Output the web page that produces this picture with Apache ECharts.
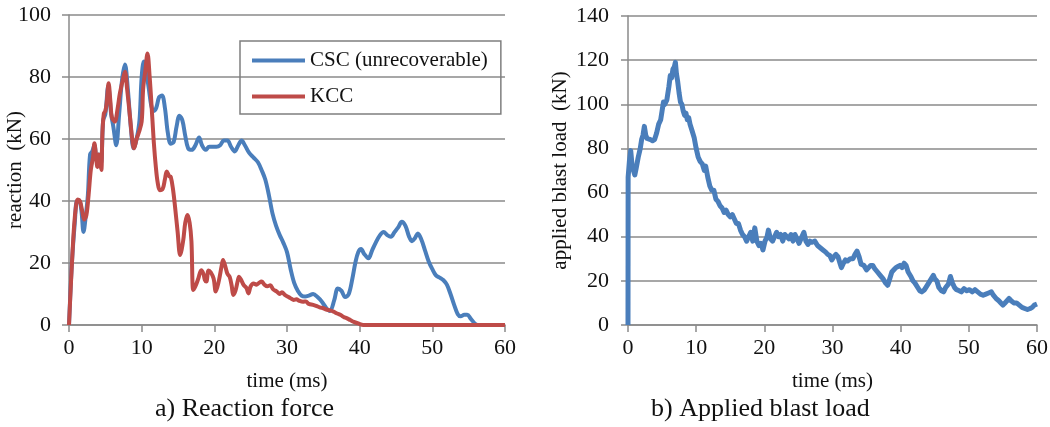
<!DOCTYPE html>
<html>
<head>
<meta charset="utf-8">
<script src="https://cdn.jsdelivr.net/npm/echarts@6/dist/echarts.min.js"></script>
<style>
  html, body { margin: 0; padding: 0; background: #fff; }
  #chart { width: 1050px; height: 427px; }
</style>
</head>
<body>
<div id="chart"></div>
<script>
// a) Reaction force — CSC (unrecoverable)
const cscTime = [0,0.4,0.8,1.1,1.4,1.7,2.0,2.3,2.6,2.9,3.2,3.5,3.8,4.1,4.4,4.7,5.0,5.4,5.8,6.1,6.5,6.9,7.3,7.7,8.1,8.5,8.9,9.3,9.7,10.0,10.3,10.6,11.0,11.3,11.6,12.0,12.4,12.8,13.2,13.6,14.0,14.4,14.8,15.2,15.6,16.0,16.4,16.9,17.4,17.9,18.3,18.8,19.3,19.8,20.3,20.8,21.3,21.8,22.3,22.8,23.3,23.75,24.2,24.8,25.4,26.0,26.5,27.0,27.5,28.0,28.5,29.0,29.5,30.0,30.5,31.0,31.5,32.0,32.5,33.0,33.6,34.2,34.8,35.4,35.9,36.5,37.0,37.5,38.0,38.5,39.0,39.4,39.8,40.2,40.6,41.2,41.7,42.2,42.8,43.3,43.8,44.3,44.8,45.3,45.8,46.3,46.8,47.2,47.6,48.0,48.5,49.0,49.5,50.0,50.5,51.0,51.5,52.0,52.5,53.0,53.5,53.9,54.4,54.8,55.3,56.0,56.5,60];
const cscForce = [0,20,33,40,40,37,30,35,42,55,56,58,54,55,52,66,68,77,68,64,58,68,79,84,76,64,57,60,66,80,85,82,76,71,69,70,73.5,74,70,62,58.5,59,64,67.5,66,61,57,56.5,58,60.5,58,56.5,57.5,57.5,57.5,58,59.5,59.5,57.5,56,58,59.5,58,55.5,54,52.5,50,47,42,36,32,29,26.5,23.5,18,13.5,11,9.5,9.2,9.5,10,9,7.5,5.5,4.5,8,11.8,11,9,10,15,20,23.5,24.5,23,21.5,24,26.5,29,30,29,28.5,30,31.5,33.3,32,28.5,27,28,29.5,27.5,24,20.5,18,16,15.3,14.5,13,10,6.5,3.5,2.8,3.3,3.3,2,0.2,0,0];

// a) Reaction force — KCC
const kccTime = [0,0.3,0.7,1.0,1.2,1.5,1.8,2.1,2.4,2.7,3.0,3.3,3.5,3.7,3.9,4.1,4.3,4.45,4.6,4.8,5.0,5.2,5.45,5.7,5.9,6.3,6.7,7.0,7.4,7.7,8.0,8.4,8.7,8.95,9.3,9.6,10.0,10.2,10.5,10.8,11.1,11.46,11.7,11.95,12.2,12.5,12.9,13.2,13.45,13.8,14.0,14.3,14.6,14.95,15.3,15.7,16.0,16.3,16.6,16.85,17.1,17.4,17.8,18.2,18.5,18.7,18.9,19.2,19.5,19.9,20.2,20.6,21.0,21.2,21.5,21.8,22.1,22.4,22.6,22.9,23.2,23.4,23.7,24.0,24.4,24.7,25.0,25.4,25.8,26.1,26.5,26.9,27.3,27.7,28.1,28.6,29.0,29.3,29.7,30.2,30.6,30.9,31.3,31.7,32.2,32.6,33.0,33.6,34.0,34.5,35.0,35.4,35.9,36.4,36.9,37.4,37.8,38.2,38.7,39.2,39.8,40.5,60];
const kccForce = [0,15,32,39,40.5,40,37,34,35.5,42,50,54,58.6,55,51,55,52,50,62,68.3,69,72,78,72,67,65.6,70,74.7,79,81.7,76,67,60,57,60,62,65.6,76,82,87.6,80,67,58,51,46,43.5,44,47,49.5,48,47.8,44,38,30,22.6,27,33,35.5,33,27,11.3,12.5,15,17.7,16.5,14.5,14,17.6,17,15,10.8,14,19,21,19,16.5,15.6,12.5,9.7,11,14,15.6,14.5,13,12,10.2,12.5,13.4,13,13.5,14,13,12.5,12.8,11.5,10.8,10,10.6,9.7,9,8.5,8.1,8.3,7.8,7.5,7.6,6.8,6.5,6.2,5.7,5.4,5,4.7,4.3,3.7,3.2,2.6,2.2,1.6,1.0,0.5,0,0];

// b) Applied blast load
const blastTime = [0,0.02,0.2,0.4,0.6,0.8,1.0,1.2,1.5,1.8,2.0,2.2,2.4,2.6,2.8,3.0,3.3,3.6,3.9,4.2,4.5,4.8,5.0,5.2,5.4,5.7,6.0,6.2,6.4,6.6,6.8,6.95,7.1,7.3,7.5,7.7,7.9,8.1,8.3,8.5,8.7,8.9,9.1,9.4,9.7,10.0,10.3,10.6,10.9,11.2,11.4,11.7,12.0,12.3,12.6,12.9,13.2,13.5,13.8,14.1,14.4,14.7,15.0,15.3,15.6,15.9,16.2,16.5,16.8,17.1,17.4,17.7,18.0,18.3,18.6,18.9,19.2,19.5,19.8,20.1,20.4,20.6,20.9,21.2,21.5,21.8,22.1,22.4,22.7,23.0,23.3,23.6,23.9,24.2,24.5,24.8,25.1,25.5,25.8,26.1,26.4,26.7,27.0,27.4,27.8,28.2,28.6,29.0,29.3,29.6,29.9,30.2,30.5,30.8,31.1,31.3,31.6,31.9,32.2,32.6,33.0,33.3,33.6,33.9,34.2,34.6,35.0,35.3,35.6,35.9,36.2,36.6,37.0,37.4,37.8,38.1,38.4,38.7,39.0,39.3,39.6,39.9,40.2,40.5,40.8,41.1,41.5,41.8,42.1,42.5,42.8,43.1,43.5,43.8,44.1,44.5,44.8,45.0,45.3,45.6,46.0,46.3,46.6,47.0,47.3,47.6,47.9,48.2,48.6,48.9,49.3,49.7,50.1,50.5,50.9,51.3,51.7,52.1,52.5,52.9,53.3,53.6,54.0,54.4,54.7,55.0,55.3,55.6,55.9,56.2,56.6,57.0,57.4,57.8,58.2,58.6,59.0,59.3,59.6,60.0];
const blastLoad = [0,67,74,79,72,70,68,71,76,80,84,86,90,86,84.5,85,84,83.5,84,87,91,93,97,101,100,102,108,113,112,116,117,119,114,110,105,101,100,97,95,96,93,94,91,88,85,80,76,74,73,70,72,67,63,61,61,57,56,54,53,51,52,50,49,50,48,46,46,43,41,40,38,40,42,38,44,38,36,37,34,38,40,43,39,38,40,42,40,41,38,41,40,39,41,38,41,39,37,40,42,38,36.5,38,37.5,38,36,35,34,33,32,31.5,29.5,31,32,31,28,26,28,29.5,29,30,30,32,33.5,31,27.5,27,25,26,27,27,25.5,24,22.5,21,19,18,21,24,25,26,26.5,27,26,28,27,24,22,20,19,17,15.5,15,16,17.5,19,21,22.5,21,20,17,15.5,15,17,18.5,22,19,17,16,15.5,15,16.5,15.5,16,15,16,15,14,13.5,14,14.5,15,13.5,12,11,10,9,10,11,12,11,10,10,9,8,7.5,7,7.5,8,9,9.5];

const timeTicks = [0, 10, 20, 30, 40, 50, 60];

const pairs = (xs, ys) => xs.map((x, i) => [x, ys[i]]);

const BLUE = '#4a7ebb';
const RED = '#be4b48';
const GRID = '#8a8a8a';
const FONT = '"Liberation Serif", "Times New Roman", serif';

const chart = echarts.init(document.getElementById('chart'), null, { renderer: 'canvas' });

function xAxisFor(gridIndex) {
  return {
    type: 'value', gridIndex, min: timeTicks[0], max: timeTicks[timeTicks.length - 1], interval: 10,
    name: 'time (ms)', nameLocation: 'middle', nameGap: 46,
    nameTextStyle: { fontFamily: FONT, fontSize: 21, color: '#111' },
    axisLine: { show: true, lineStyle: { color: GRID, width: 1.5 } },
    axisTick: { show: true, inside: false, length: 7, lineStyle: { color: GRID, width: 1.5 } },
    axisLabel: { fontFamily: FONT, fontSize: 22, color: '#111', margin: 12 },
    splitLine: { show: false }
  };
}

function yAxisFor(gridIndex, max, name, gap, labelMargin) {
  return {
    type: 'value', gridIndex, min: 0, max, interval: 20,
    name, nameLocation: 'middle', nameGap: gap, nameMoveOverlap: false,
    nameTextStyle: { fontFamily: FONT, fontSize: 21, color: '#111' },
    axisLine: { show: true, lineStyle: { color: GRID, width: 1.5 } },
    axisTick: { show: true, inside: false, length: 7, lineStyle: { color: GRID, width: 1.5 } },
    axisLabel: { fontFamily: FONT, fontSize: 22, color: '#111', margin: labelMargin },
    splitLine: { show: true, lineStyle: { color: GRID, width: 1.5 } }
  };
}

chart.setOption({
  backgroundColor: '#ffffff',
  animation: false,
  title: [
    { text: 'a) Reaction force', left: 150, top: 391, textStyle: { fontFamily: FONT, fontSize: 26, fontWeight: 'normal', color: '#111' } },
    { text: 'b) Applied blast load', left: 646, top: 391, textStyle: { fontFamily: FONT, fontSize: 26, fontWeight: 'normal', color: '#111' } }
  ],
  legend: {
    orient: 'vertical', left: 240, top: 41,
    padding: [9, 13, 7, 12], itemGap: 15,
    itemWidth: 53, itemHeight: 4, icon: 'rect',
    borderColor: '#7f7f7f', borderWidth: 1.5,
    textStyle: { fontFamily: FONT, fontSize: 21, color: '#111' },
    data: ['CSC (unrecoverable)', 'KCC']
  },
  grid: [
    { left: 69, top: 15, width: 436, height: 310, outerBoundsMode: 'none', containLabel: false },
    { left: 628, top: 16, width: 409, height: 309, outerBoundsMode: 'none', containLabel: false }
  ],
  xAxis: [xAxisFor(0), xAxisFor(1)],
  yAxis: [
    yAxisFor(0, 100, 'reaction  (kN)', 43, 18),
    yAxisFor(1, 140, 'applied blast load  (kN)', 57, 19)
  ],
  series: [
    {
      name: 'CSC (unrecoverable)', type: 'line', xAxisIndex: 0, yAxisIndex: 0,
      data: pairs(cscTime, cscForce), showSymbol: false, symbol: 'none', smooth: 0.35,
      lineStyle: { color: BLUE, width: 4 }, itemStyle: { color: BLUE }
    },
    {
      name: 'KCC', type: 'line', xAxisIndex: 0, yAxisIndex: 0,
      data: pairs(kccTime, kccForce), showSymbol: false, symbol: 'none', smooth: 0.35,
      lineStyle: { color: RED, width: 4 }, itemStyle: { color: RED }
    },
    {
      name: 'blast load', type: 'line', xAxisIndex: 1, yAxisIndex: 1,
      data: pairs(blastTime, blastLoad), showSymbol: false, symbol: 'none',
      lineStyle: { color: BLUE, width: 5, join: 'round' }, itemStyle: { color: BLUE }
    }
  ]
});
</script>
</body>
</html>
